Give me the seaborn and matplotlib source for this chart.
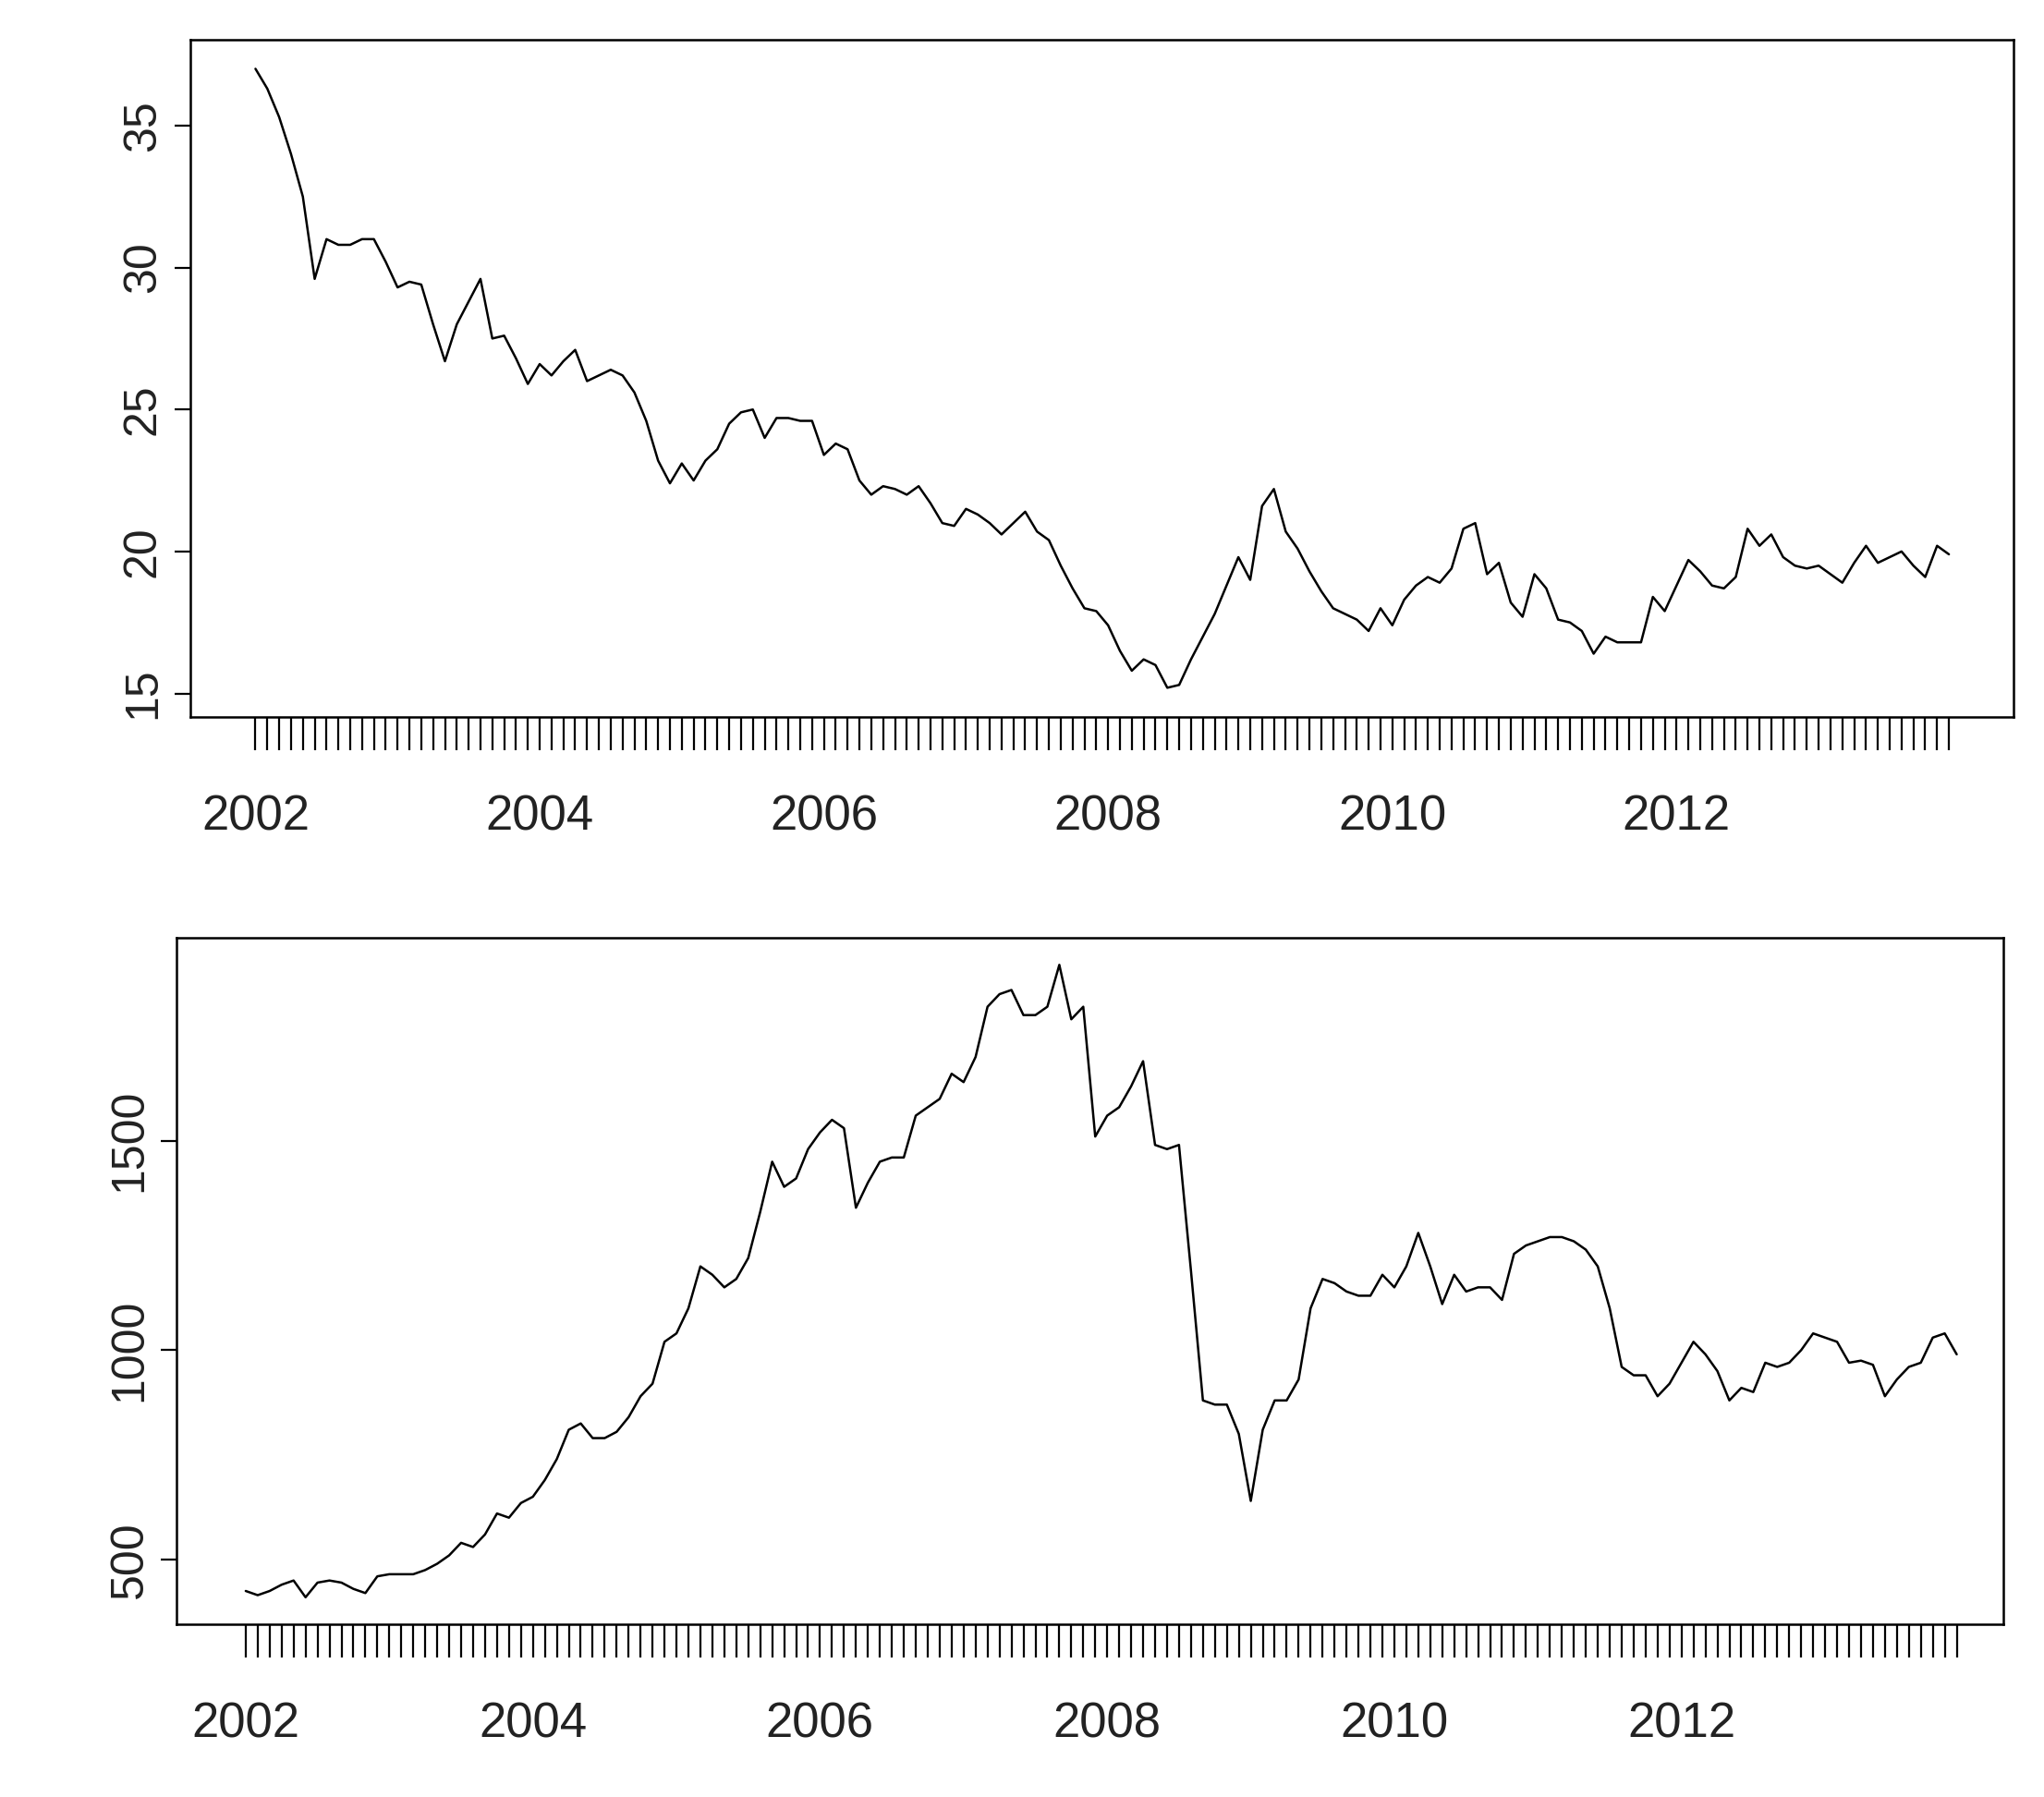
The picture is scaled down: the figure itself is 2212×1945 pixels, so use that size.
import numpy as np
import pandas as pd
import matplotlib
matplotlib.use('Agg')
import matplotlib.pyplot as plt
import seaborn as sns

# ── Data: monthly values Jan 2002 – Dec 2013 ─────────────────────────────────
top_values = [
    37.0, 36.3, 35.3, 34.0, 32.5, 29.6, 31.0, 30.8, 30.8, 31.0, 31.0, 30.2,
    29.3, 29.5, 29.4, 28.0, 26.7, 28.0, 28.8, 29.6, 27.5, 27.6, 26.8, 25.9,
    26.6, 26.2, 26.7, 27.1, 26.0, 26.2, 26.4, 26.2, 25.6, 24.6, 23.2, 22.4,
    23.1, 22.5, 23.2, 23.6, 24.5, 24.9, 25.0, 24.0, 24.7, 24.7, 24.6, 24.6,
    23.4, 23.8, 23.6, 22.5, 22.0, 22.3, 22.2, 22.0, 22.3, 21.7, 21.0, 20.9,
    21.5, 21.3, 21.0, 20.6, 21.0, 21.4, 20.7, 20.4, 19.5, 18.7, 18.0, 17.9,
    17.4, 16.5, 15.8, 16.2, 16.0, 15.2, 15.3, 16.2, 17.0, 17.8, 18.8, 19.8,
    19.0, 21.6, 22.2, 20.7, 20.1, 19.3, 18.6, 18.0, 17.8, 17.6, 17.2, 18.0,
    17.4, 18.3, 18.8, 19.1, 18.9, 19.4, 20.8, 21.0, 19.2, 19.6, 18.2, 17.7,
    19.2, 18.7, 17.6, 17.5, 17.2, 16.4, 17.0, 16.8, 16.8, 16.8, 18.4, 17.9,
    18.8, 19.7, 19.3, 18.8, 18.7, 19.1, 20.8, 20.2, 20.6, 19.8, 19.5, 19.4,
    19.5, 19.2, 18.9, 19.6, 20.2, 19.6, 19.8, 20.0, 19.5, 19.1, 20.2, 19.9,
]
bottom_values = [
    425, 415, 425, 440, 450, 410, 445, 450, 445, 430, 420, 460,
    465, 465, 465, 475, 490, 510, 540, 530, 560, 610, 600, 635,
    650, 690, 740, 810, 825, 790, 790, 805, 840, 890, 920, 1020,
    1040, 1100, 1200, 1180, 1150, 1170, 1220, 1330, 1450, 1390, 1410, 1480,
    1520, 1550, 1530, 1340, 1400, 1450, 1460, 1460, 1560, 1580, 1600, 1660,
    1640, 1700, 1820, 1850, 1860, 1800, 1800, 1820, 1920, 1790, 1820, 1510,
    1560, 1580, 1630, 1690, 1490, 1480, 1490, 1190, 880, 870, 870, 800,
    640, 810, 880, 880, 930, 1100, 1170, 1160, 1140, 1130, 1130, 1180,
    1150, 1200, 1280, 1200, 1110, 1180, 1140, 1150, 1150, 1120, 1230, 1250,
    1260, 1270, 1270, 1260, 1240, 1200, 1100, 960, 940, 940, 890, 920,
    970, 1020, 990, 950, 880, 910, 900, 970, 960, 970, 1000, 1040,
    1030, 1020, 970, 975, 965, 890, 930, 960, 970, 1030, 1040, 990,
]
time = [2002 + i / 12 for i in range(144)]
year_labels = ['2002', '2004', '2006', '2008', '2010', '2012']
top_yticks = [15, 20, 25, 30, 35]
bottom_yticks = [500, 1000, 1500]

df = pd.DataFrame({'time': time, 'top': top_values, 'bottom': bottom_values})

sns.set_style('white', {'xtick.bottom': True, 'ytick.left': True})
plt.rcParams['font.family'] = 'Liberation Sans'
fig = plt.figure(figsize=(22.12, 19.45), dpi=100)
ax1 = fig.add_axes([0.093, 0.601, 0.892, 0.377])
ax2 = fig.add_axes([0.0865, 0.096, 0.8935, 0.382])

panels = [
    (ax1, 'top', top_yticks, (2001.54, 2014.37), (14.17, 38.03)),
    (ax2, 'bottom', bottom_yticks, (2001.52, 2014.24), (345, 1984)),
]
for ax, col, yt, xl, yl in panels:
    sns.lineplot(data=df, x='time', y=col, ax=ax, color='black', linewidth=1.8)
    ax.set_xlim(*xl)
    ax.set_ylim(*yl)
    ax.set_xlabel('')
    ax.set_ylabel('')
    ax.set_yticks(yt)
    ax.set_yticklabels([str(v) for v in yt], rotation=90, va='center',
                       fontsize=36, color='#222222')
    ax.set_xticks(time)
    labels = [year_labels[(i // 24)] if i % 24 == 0 else '' for i in range(144)]
    ax.set_xticklabels(labels, fontsize=38, color='#222222')
    ax.tick_params(axis='x', bottom=True, direction='out', length=26, width=1.6,
                   pad=34, color='black')
    ax.tick_params(axis='y', left=True, direction='out', length=12, width=1.6,
                   pad=8, color='black')
    for s in ax.spines.values():
        s.set_linewidth(1.8)
        s.set_color('black')

fig.savefig('out.png', dpi=100)
